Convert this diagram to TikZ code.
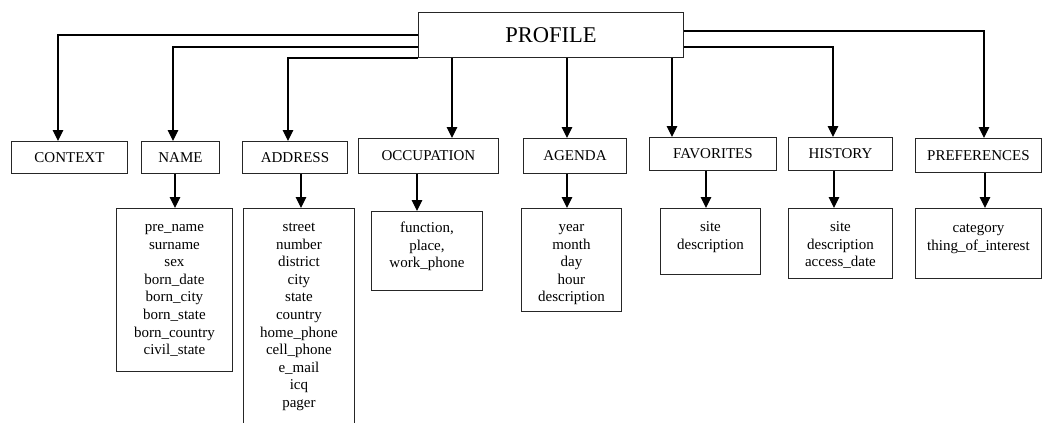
\documentclass[tikz,border=0pt]{standalone}
\usepackage{fontspec}
\setmainfont{Liberation Serif}
\usetikzlibrary{arrows.meta}

% field list: width, height, first baseline from top, lines
\newcommand\fieldbox[4]{%
  \parbox[t][#2][t]{#1}{\centering\fontsize{15pt}{17.6pt}\selectfont\rule{0pt}{#3}#4}}

\tikzset{
  wire/.style={line width=1.2pt, -{Triangle[width=10.5pt,length=11pt]}},
  group/.style={draw=black!85, line width=0.9pt, inner sep=0pt, anchor=north west,
    font=\fontsize{15pt}{18pt}\selectfont},
  fields/.style={draw=black!85, line width=0.9pt, inner sep=0pt, anchor=north west},
}

\begin{document}
\begin{tikzpicture}[x=1pt,y=-1pt]
\useasboundingbox (0,0) rectangle (1042,423);
\fill[white] (0,0) rectangle (1042,423);
\clip (0,0) rectangle (1042,423);

% root
\node[group, minimum width=265pt, minimum height=45pt,
      font=\fontsize{22.5pt}{26pt}\selectfont] (profile) at (418,12) {PROFILE};

% first level
\node[group, minimum width=116pt, minimum height=32pt] (context)     at (11,141)  {CONTEXT};
\node[group, minimum width=78pt,  minimum height=32pt] (name)        at (141,141) {NAME};
\node[group, minimum width=105pt, minimum height=32pt] (address)     at (242,141) {ADDRESS};
\node[group, minimum width=140pt, minimum height=35pt] (occupation)  at (358,138) {OCCUPATION};
\node[group, minimum width=103pt, minimum height=35pt] (agenda)      at (523,138) {AGENDA};
\node[group, minimum width=127pt, minimum height=33pt] (favorites)   at (649,137) {FAVORITES};
\node[group, minimum width=104pt, minimum height=33pt] (history)     at (788,137) {HISTORY};
\node[group, minimum width=126pt, minimum height=34pt] (preferences) at (915,138) {PREFERENCES};

% field lists
\node[fields] (namelist) at (116,208)
  {\fieldbox{116pt}{163pt}{23pt}{pre\_name\\surname\\sex\\born\_date\\born\_city\\born\_state\\born\_country\\civil\_state}};
\node[fields] (addresslist) at (243,208)
  {\fieldbox{111pt}{240pt}{23pt}{street\\number\\district\\city\\state\\country\\home\_phone\\cell\_phone\\e\_mail\\icq\\pager}};
\node[fields] (occlist) at (371,211)
  {\fieldbox{111pt}{79pt}{21pt}{function,\\place,\\work\_phone}};
\node[fields] (agendalist) at (521,208)
  {\fieldbox{100pt}{103pt}{23pt}{year\\month\\day\\hour\\description}};
\node[fields] (favlist) at (660,208)
  {\fieldbox{100pt}{66pt}{23pt}{site\\description}};
\node[fields] (histlist) at (788,208)
  {\fieldbox{104pt}{70pt}{23pt}{site\\description\\access\_date}};
\node[fields] (preflist) at (915,208)
  {\fieldbox{126pt}{70pt}{24pt}{category\\thing\_of\_interest}};

% root to first level
\draw[wire] (profile.west) -| (context.north -| 58,0);
\draw[wire] (profile.west |- 0,47) -| (name.north -| 173,0);
\draw[wire] (profile.south west) -| (address.north -| 288,0);
\draw[wire] (profile.south -| 452,0) -- (occupation.north -| 452,0);
\draw[wire] (profile.south -| 567,0) -- (agenda.north -| 567,0);
\draw[wire] (profile.south -| 672,0) -- (favorites.north -| 672,0);
\draw[wire] (profile.east |- 0,47) -| (history.north -| 833,0);
\draw[wire] (profile.east |- 0,31) -| (preferences.north -| 984,0);

% first level to field lists
\draw[wire] (name.south -| 175,0) -- (namelist.north -| 175,0);
\draw[wire] (address.south -| 301,0) -- (addresslist.north -| 301,0);
\draw[wire] (occupation.south -| 417,0) -- (occlist.north -| 417,0);
\draw[wire] (agenda.south -| 567,0) -- (agendalist.north -| 567,0);
\draw[wire] (favorites.south -| 706,0) -- (favlist.north -| 706,0);
\draw[wire] (history.south -| 834,0) -- (histlist.north -| 834,0);
\draw[wire] (preferences.south -| 985,0) -- (preflist.north -| 985,0);
\end{tikzpicture}
\end{document}
